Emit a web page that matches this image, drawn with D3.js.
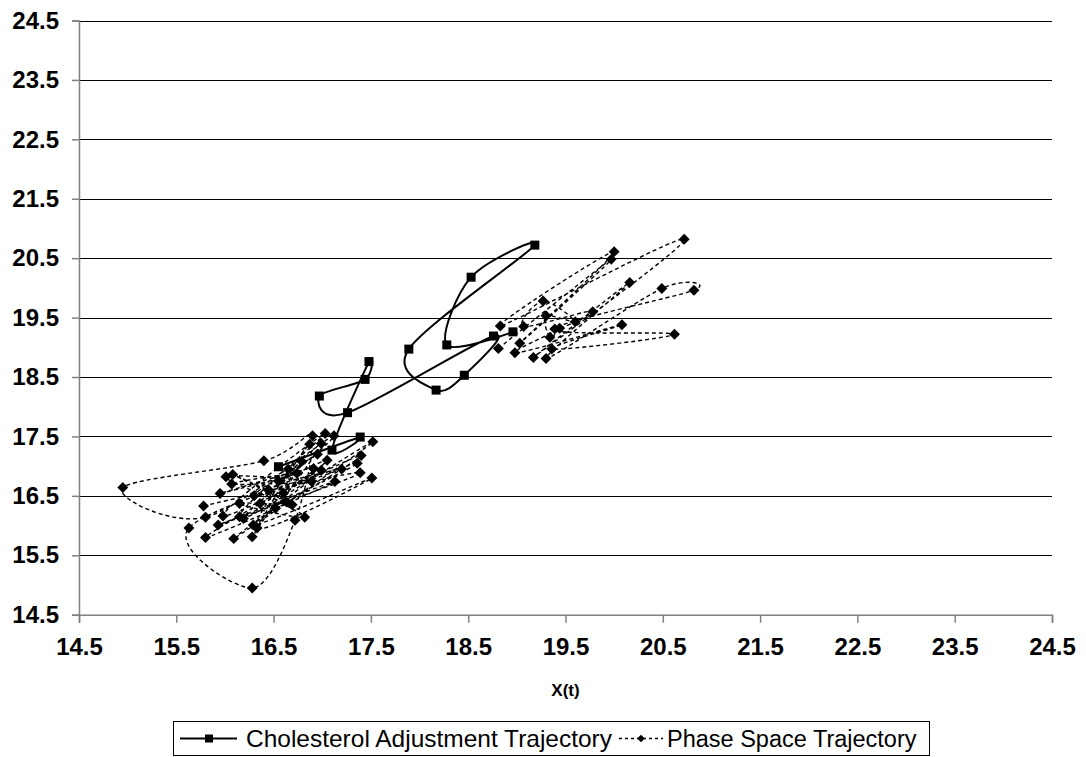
<!DOCTYPE html>
<html>
<head>
<meta charset="utf-8">
<script src="https://cdn.jsdelivr.net/npm/d3@7"></script>
<style>
  html, body { margin: 0; padding: 0; background: #fff; }
  svg { display: block; }
  text { font-family: "Liberation Sans", Arial, sans-serif; }
</style>
</head>
<body>
<svg id="chart" width="1086" height="757"></svg>
<script>
// ---- data ----
const tickValues = [14.5, 15.5, 16.5, 17.5, 18.5, 19.5, 20.5, 21.5, 22.5, 23.5, 24.5];

const cholX = [16.55, 17.39, 17.10, 17.48, 17.44, 16.97, 17.26, 18.76, 18.46, 18.17, 17.89, 19.185, 18.53, 18.28, 18.96];
const cholY = [16.99, 17.49, 17.27, 18.76, 18.46, 18.18, 17.90, 19.19, 18.53, 18.28, 18.97, 20.72, 20.18, 19.04, 19.26];

// null marks a break in the trajectory line
const phaseX = [15.78, 17.39, 15.93, 17.13, 15.80, 16.99, 16.09, 17.52, 16.19, 17.12,
                15.80, 14.95, 16.40, 16.90, 16.33, 17.51, 16.29, 17.40, 15.98, 17.03,
                16.15, 17.36, 15.63, 16.28, 16.72, 16.87, 16.28, 16.79, 16.52, 16.99,
                16.36, 16.91, 15.95, 16.74, 16.07, 16.89, 16.01, 16.69, 16.08, 16.63,
                16.15, 16.82, 16.45, 17.20, 16.30, 16.95, 16.55, 17.05, 16.60, 16.65,
                null,
                18.81, 19.97, 19.03, 20.00, 18.83, 20.72, 19.17, 20.16, 19.30, 20.49,
                20.82, 19.39, 20.62, 19.36, 20.08, 18.98, 19.78, 19.07, 19.27, 19.60,
                19.30, 19.34, 19.44];
const phaseY = [16.33, 16.89, 16.01, 16.74, 15.80, 16.93, 15.78, 17.41, 16.12, 17.51,
                16.14, 16.64, 17.09, 17.51, 15.96, 16.80, 16.01, 17.18, 16.16, 17.55,
                16.15, 17.05, 15.96, 14.95, 16.09, 17.37, 15.81, 17.08, 16.29, 17.38,
                16.37, 16.96, 16.54, 16.88, 16.70, 16.74, 16.82, 16.35, 16.86, 16.40,
                16.37, 16.14, 16.60, 16.95, 16.50, 17.20, 16.75, 17.10, 16.55, 16.95,
                null,
                18.98, 20.48, 19.07, 20.61, 19.36, 20.82, 18.83, 20.09, 18.81, 19.99,
                19.96, 19.31, 19.22, 18.97, 19.38, 18.91, 19.60, 19.35, 19.78, 19.43,
                19.53, 19.17, 19.32];

const seriesNames = ["Cholesterol Adjustment Trajectory", "Phase Space Trajectory"];
const xTitle = "X(t)";

// ---- build ----
const chol = cholX.map((v, i) => ({x: v, y: cholY[i]}));
const phase = phaseX.map((v, i) => (v == null ? null : {x: v, y: phaseY[i]}));

const svg = d3.select("#chart");
const pLeft = 79, pRight = 1052, pTop = 20.5, pBottom = 614.7;

const xs = d3.scaleLinear().domain([14.5, 24.5]).range([pLeft, pRight]);
const ys = d3.scaleLinear().domain([14.5, 24.5]).range([pBottom, pTop]);
const fmt = d3.format(".1f");

// gridlines
svg.append("g")
  .selectAll("line")
  .data(tickValues.filter(v => v > 14.5))
  .join("line")
  .attr("x1", pLeft).attr("x2", pRight)
  .attr("y1", d => Math.round(ys(d)) + 0.5).attr("y2", d => Math.round(ys(d)) + 0.5)
  .attr("stroke", "#000").attr("stroke-width", 1);

// y axis
const yAxis = d3.axisLeft(ys).tickValues(tickValues).tickSize(7).tickPadding(13).tickFormat(fmt);
const gy = svg.append("g").attr("transform", `translate(${pLeft},0)`).call(yAxis);
gy.select(".domain").attr("stroke", "#808080").attr("stroke-width", 1.5);
gy.selectAll(".tick line").attr("stroke", "#808080").attr("stroke-width", 1.5);
gy.selectAll(".tick text")
  .attr("font-size", 24).attr("font-weight", "bold").attr("fill", "#000")
  .attr("font-family", "'Liberation Sans', Arial, sans-serif");

// x axis
const xAxis = d3.axisBottom(xs).tickValues(tickValues).tickSize(8).tickPadding(15).tickFormat(fmt);
const gx = svg.append("g").attr("transform", `translate(0,${pBottom})`).call(xAxis);
gx.select(".domain").attr("stroke", "#808080").attr("stroke-width", 1.5);
gx.selectAll(".tick line").attr("stroke", "#808080").attr("stroke-width", 1.5);
gx.selectAll(".tick text")
  .attr("font-size", 24).attr("font-weight", "bold").attr("fill", "#000")
  .attr("font-family", "'Liberation Sans', Arial, sans-serif");

// axis title
svg.append("text")
  .attr("x", (pLeft + pRight) / 2).attr("y", 696)
  .attr("text-anchor", "middle")
  .attr("font-size", 17).attr("font-weight", "bold")
  .text(xTitle);

// lines
const lineGen = d3.line()
  .defined(d => d != null)
  .x(d => xs(d.x)).y(d => ys(d.y))
  .curve(d3.curveCardinal.tension(0));

svg.append("path")
  .datum(phase)
  .attr("d", lineGen)
  .attr("fill", "none").attr("stroke", "#000")
  .attr("stroke-width", 1.4).attr("stroke-dasharray", "4,3");

svg.append("path")
  .datum(chol)
  .attr("d", lineGen)
  .attr("fill", "none").attr("stroke", "#000")
  .attr("stroke-width", 2);

// markers
const diamond = d3.symbol().type(d3.symbolSquare).size(60);
svg.append("g")
  .selectAll("path")
  .data(phase.filter(d => d != null))
  .join("path")
  .attr("d", diamond)
  .attr("transform", d => `translate(${xs(d.x)},${ys(d.y)}) rotate(45)`)
  .attr("fill", "#000");

const sq = 9;
svg.append("g")
  .selectAll("rect")
  .data(chol)
  .join("rect")
  .attr("x", d => xs(d.x) - sq / 2).attr("y", d => ys(d.y) - sq / 2)
  .attr("width", sq).attr("height", sq)
  .attr("fill", "#000");

// legend
const lg = svg.append("g");
lg.append("rect")
  .attr("x", 173.5).attr("y", 721.5).attr("width", 756).attr("height", 34)
  .attr("fill", "#fff").attr("stroke", "#000").attr("stroke-width", 1);
const ly = 738.5;
lg.append("line").attr("x1", 180).attr("x2", 237).attr("y1", ly).attr("y2", ly)
  .attr("stroke", "#000").attr("stroke-width", 2);
lg.append("rect").attr("x", 205).attr("y", ly - 4).attr("width", 8).attr("height", 8).attr("fill", "#000");
lg.append("text").attr("x", 246).attr("y", 746.5).attr("font-size", 24)
  .attr("textLength", 366).attr("lengthAdjust", "spacingAndGlyphs")
  .text(seriesNames[0]);

lg.append("line").attr("x1", 619).attr("x2", 663).attr("y1", ly).attr("y2", ly)
  .attr("stroke", "#000").attr("stroke-width", 1.3).attr("stroke-dasharray", "3,3");
lg.append("path").attr("d", d3.symbol().type(d3.symbolSquare).size(30))
  .attr("transform", `translate(641,${ly}) rotate(45)`).attr("fill", "#000");
lg.append("text").attr("x", 667).attr("y", 746.5).attr("font-size", 23.5).text(seriesNames[1]);
</script>
</body>
</html>
